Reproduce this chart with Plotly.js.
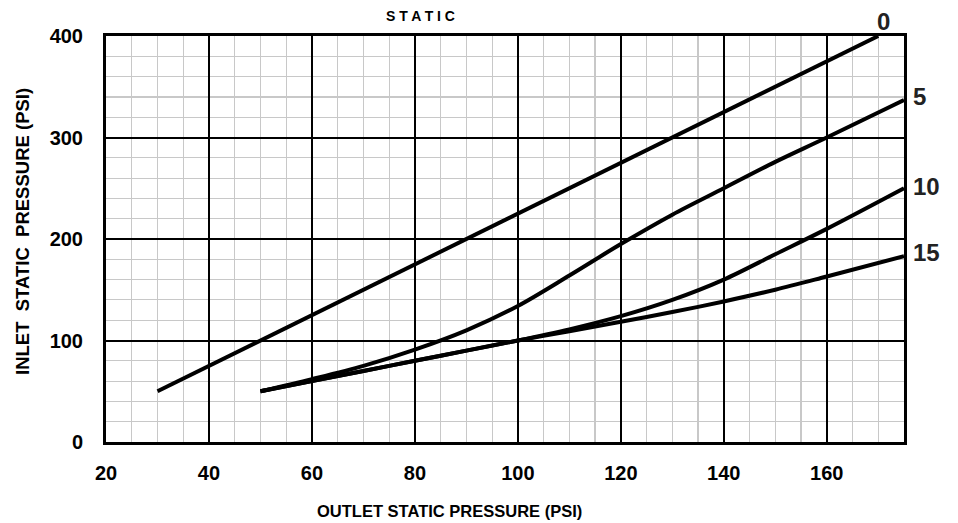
<!DOCTYPE html>
<html>
<head>
<meta charset="utf-8">
<script src="https://cdn.plot.ly/plotly-3.0.1.min.js"></script>
<style>html,body{margin:0;padding:0;background:#fff;}#chart{width:958px;height:523px;}</style>
</head>
<body>
<div id="chart"></div>
<script>
// Outlet static pressure (PSI) and inlet static pressure (PSI) for each curve
const x0 = [30, 60, 100, 140, 170];
const y0 = [50, 125, 225, 325, 400];
const x5 = [50, 60, 70, 80, 90, 100, 110, 120, 130, 140, 150, 160, 175];
const y5 = [50, 62, 75, 91, 110, 134, 164, 195, 224, 250, 276, 300, 337];
const x10 = [50, 60, 70, 80, 90, 100, 110, 120, 130, 140, 150, 160, 175];
const y10 = [50, 60, 70, 80, 90, 100, 111, 124, 140, 160, 185, 210, 250];
const x15 = [50, 60, 70, 80, 90, 100, 110, 120, 130, 140, 150, 160, 175];
const y15 = [50, 60, 70, 80, 90, 100, 109, 118.5, 128, 138.5, 150, 163, 183];
const curveLabels = ['0', '5', '10', '15'];
const xTicks = [20, 40, 60, 80, 100, 120, 140, 160];
const yTicks = [0, 100, 200, 300, 400];

const FONT = 'Liberation Sans, Arial, sans-serif';
const lineStyle = {color: '#000', width: 4};
const traces = [
  {x: x0, y: y0, mode: 'lines', line: Object.assign({}, lineStyle)},
  {x: x5, y: y5, mode: 'lines', line: Object.assign({shape: 'spline', smoothing: 0.9}, lineStyle)},
  {x: x10, y: y10, mode: 'lines', line: Object.assign({shape: 'spline', smoothing: 0.9}, lineStyle)},
  {x: x15, y: y15, mode: 'lines', line: Object.assign({shape: 'spline', smoothing: 0.9}, lineStyle)}
];

const L = 106, R = 54, T = 36, B = 81;
const W = 958 - L - R, H = 523 - T - B;
const px = v => (v - L) / W;
const py = v => (523 - B - v) / H;

// label pixel positions (layout only)
const labelPx = [[883, 22], [919, 96], [926, 186], [926, 252]];
const annotations = curveLabels.map((t, i) => ({
  x: px(labelPx[i][0]), y: py(labelPx[i][1]), xref: 'paper', yref: 'paper', text: '<b>' + t + '</b>',
  showarrow: false, font: {family: FONT, size: 24, color: '#222'}, xanchor: 'center', yanchor: 'middle'
}));
annotations.push({
  x: px(420), y: py(16), xref: 'paper', yref: 'paper', text: '<b>S T A T I C</b>', showarrow: false,
  font: {family: FONT, size: 14, color: '#000'}, xanchor: 'center', yanchor: 'middle'
});
annotations.push({
  x: px(449), y: py(511), xref: 'paper', yref: 'paper',
  text: '<b>OUTLET STATIC PRESSURE (PSI)</b>', showarrow: false,
  font: {family: FONT, size: 16.5, color: '#000'}, xanchor: 'center', yanchor: 'middle'
});
annotations.push({
  x: px(22), y: py(232), xref: 'paper', yref: 'paper',
  text: '<b>INLET  STATIC  PRESSURE (PSI)</b>', showarrow: false, textangle: -90,
  font: {family: FONT, size: 18.5, color: '#000'}, xanchor: 'center', yanchor: 'middle'
});

const layout = {
  width: 958, height: 523,
  margin: {l: L, r: R, t: T, b: B},
  paper_bgcolor: '#fff', plot_bgcolor: '#fff',
  showlegend: false,
  font: {family: FONT, color: '#000'},
  xaxis: {
    range: [20, 175], tickvals: xTicks, ticktext: xTicks.map(String),
    showgrid: true, gridcolor: '#000', gridwidth: 2,
    minor: {dtick: 5, tick0: 20, showgrid: true, gridcolor: '#c8c8c8', gridwidth: 1.2},
    showline: true, linecolor: '#000', linewidth: 3, mirror: true,
    ticks: 'outside', ticklen: 11, tickcolor: 'rgba(0,0,0,0)',
    tickfont: {family: FONT, size: 20, weight: 'bold', color: '#000'},
    zeroline: false, fixedrange: true
  },
  yaxis: {
    range: [0, 400], tickvals: yTicks, ticktext: yTicks.map(String),
    showgrid: true, gridcolor: '#000', gridwidth: 2,
    minor: {dtick: 20, tick0: 0, showgrid: true, gridcolor: '#c8c8c8', gridwidth: 1.2},
    showline: true, linecolor: '#000', linewidth: 3, mirror: true,
    ticks: 'outside', ticklen: 16, tickcolor: 'rgba(0,0,0,0)',
    tickfont: {family: FONT, size: 20, weight: 'bold', color: '#000'},
    zeroline: false, fixedrange: true
  },
  annotations: annotations
};

Plotly.newPlot('chart', traces, layout, {staticPlot: true, displayModeBar: false});
</script>
</body>
</html>
